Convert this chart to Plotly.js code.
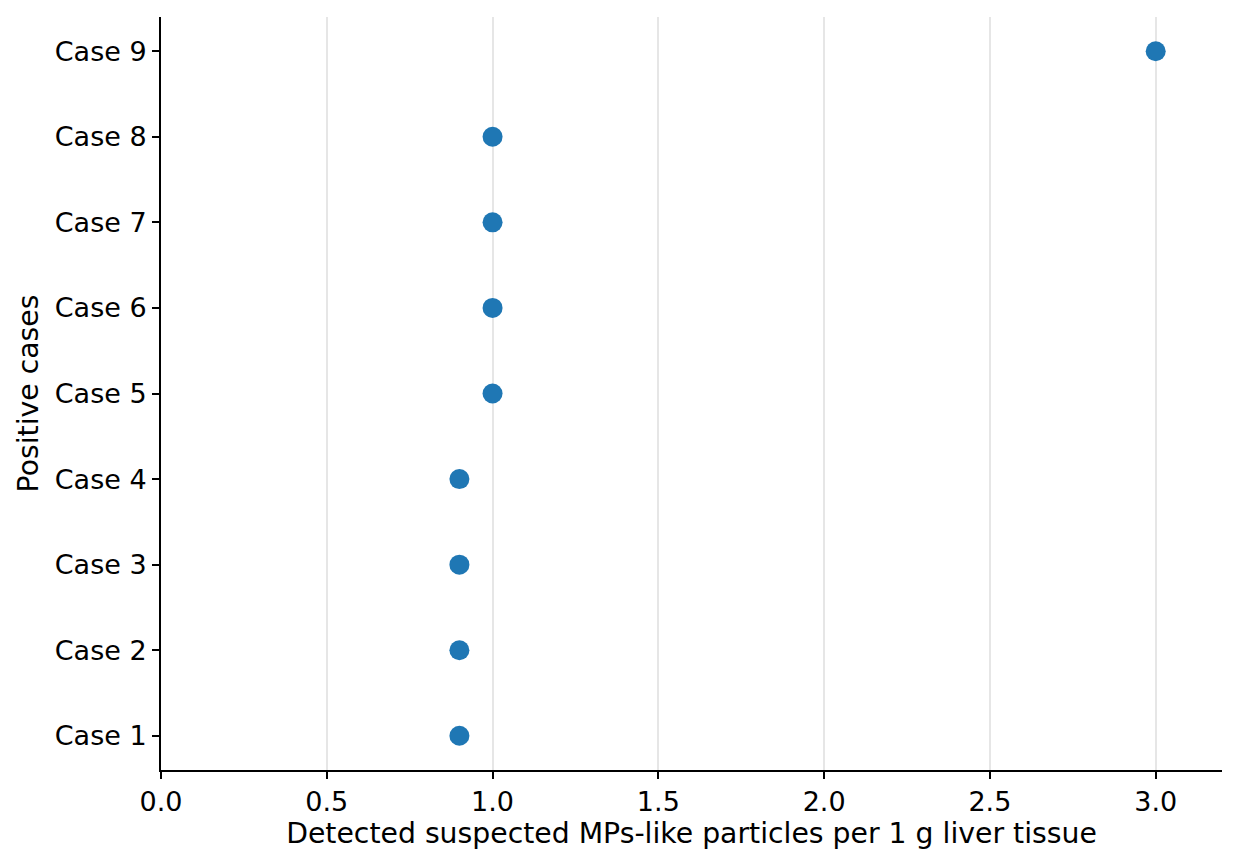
<!DOCTYPE html>
<html>
<head>
<meta charset="utf-8">
<script src="https://cdn.plot.ly/plotly-3.0.1.min.js"></script>
<style>
  html, body { margin: 0; padding: 0; background: #fff; }
  #chart { width: 1240px; height: 867px; }
</style>
</head>
<body>
<div id="chart"></div>
<script>
// cases on the y axis, detected particles per gram on x
var cases = ["Case 1", "Case 2", "Case 3", "Case 4", "Case 5", "Case 6", "Case 7", "Case 8", "Case 9"];
var particles = [0.9, 0.9, 0.9, 0.9, 1.0, 1.0, 1.0, 1.0, 3.0];
var xTicks = [0, 0.5, 1, 1.5, 2, 2.5, 3];
var xTickText = ["0.0", "0.5", "1.0", "1.5", "2.0", "2.5", "3.0"];

var trace = {
  type: "scatter",
  mode: "markers",
  x: particles,
  y: cases,
  marker: { color: "#1f77b4", size: 20 },
  hoverinfo: "x+y"
};

var font = "DejaVu Sans, sans-serif";

var layout = {
  width: 1240,
  height: 867,
  margin: { l: 161, r: 18, t: 17, b: 97 },
  paper_bgcolor: "#fff",
  plot_bgcolor: "#fff",
  showlegend: false,
  font: { family: font, size: 27, color: "#000" },
  xaxis: {
    range: [0, 3.2],
    tickvals: xTicks,
    ticktext: xTickText,
    showgrid: true,
    gridcolor: "#e6e6e6",
    gridwidth: 1.5,
    zeroline: false,
    showline: true,
    linecolor: "#000",
    linewidth: 2,
    ticks: "outside",
    ticklen: 7,
    tickwidth: 1.5,
    tickcolor: "#000",
    title: { text: "Detected suspected MPs-like particles per 1 g liver tissue", font: { size: 28.3 }, standoff: 6 }
  },
  yaxis: {
    type: "category",
    range: [-0.4, 8.4],
    showgrid: false,
    zeroline: false,
    showline: true,
    linecolor: "#000",
    linewidth: 2,
    ticks: "outside",
    ticklen: 7,
    tickwidth: 1.5,
    tickcolor: "#000",
    title: { text: "Positive cases", font: { size: 28.3 }, standoff: 8 }
  }
};

Plotly.newPlot("chart", [trace], layout, { displayModeBar: false });
</script>
</body>
</html>
